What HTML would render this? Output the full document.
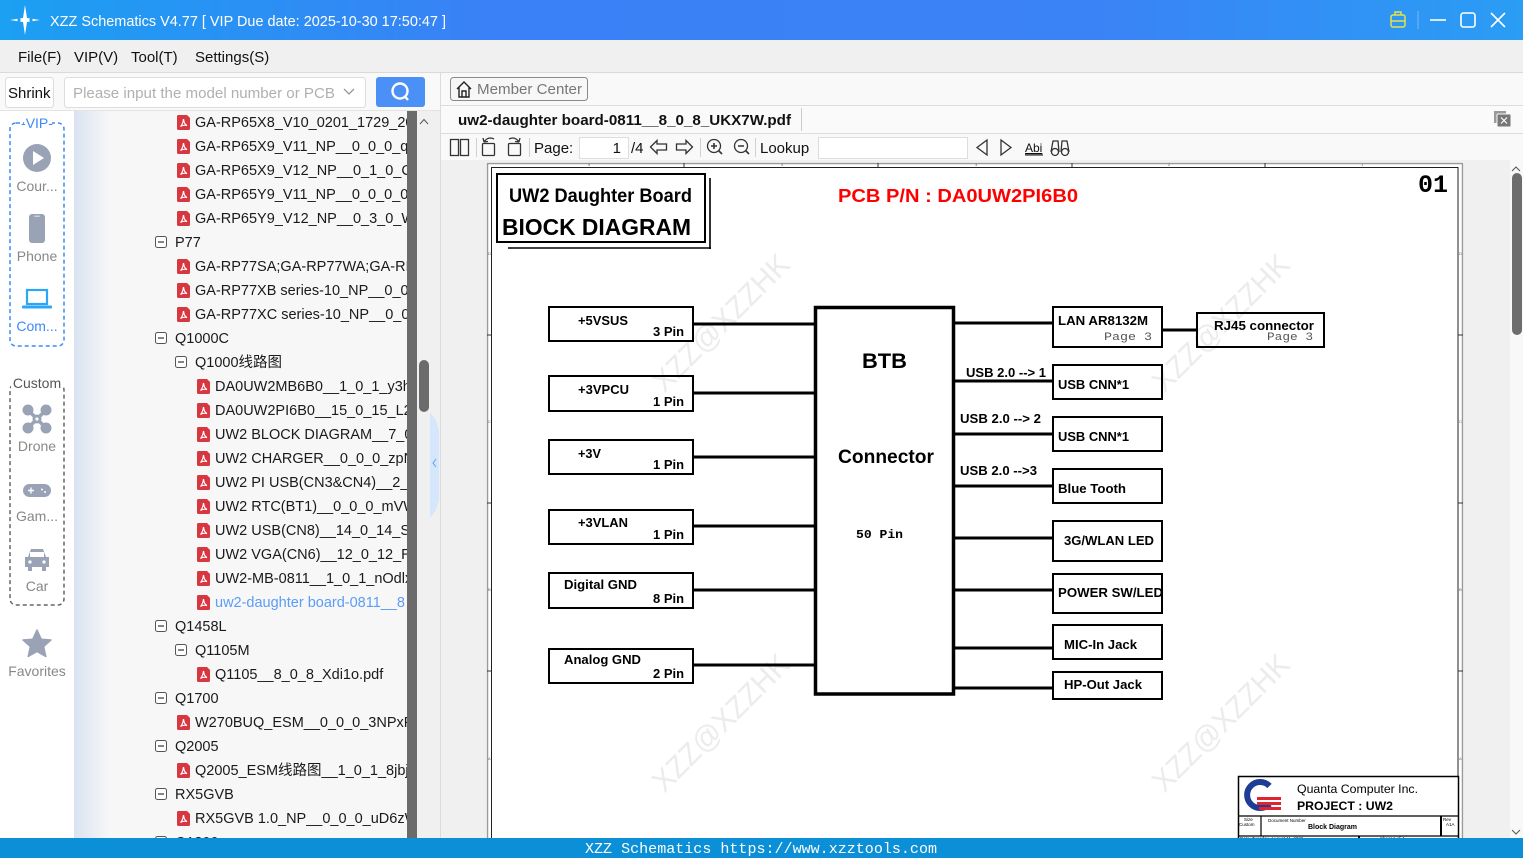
<!DOCTYPE html>
<html><head><meta charset="utf-8">
<style>
html,body{margin:0;padding:0;width:1523px;height:858px;overflow:hidden;background:#f0f0f0}
svg{display:block}
.ui{font-family:"Liberation Sans","Noto Sans CJK SC",sans-serif}
.b{font-family:"Liberation Sans",sans-serif;font-weight:bold}
.m{font-family:"Liberation Mono",monospace}
</style></head>
<body>
<svg width="1523" height="858" viewBox="0 0 1523 858" xmlns="http://www.w3.org/2000/svg">
<defs>
<linearGradient id="tg" x1="0" x2="1" y1="0" y2="0">
<stop offset="0" stop-color="#1ba0f2"/><stop offset="0.33" stop-color="#3a80f6"/><stop offset="0.72" stop-color="#3a83f6"/><stop offset="1" stop-color="#2a9df4"/></linearGradient>
<linearGradient id="treeg" x1="0" x2="1" y1="0" y2="0">
<stop offset="0" stop-color="#dae3f2"/><stop offset="1" stop-color="#f7f7f7"/></linearGradient>
<clipPath id="treeclip"><rect x="74" y="111" width="333" height="727"/></clipPath>
<clipPath id="pageclip"><rect x="441" y="160" width="1069" height="678"/></clipPath>
<g id="pi"><path d="M0 1.5 Q0 0 1.5 0 L10 0 L13 3 L13 13.5 Q13 15 11.5 15 L1.5 15 Q0 15 0 13.5 Z" fill="#d9373f"/><path d="M3.5 11.5 Q6 9 6.5 4 Q7 9 10 10.5 Q6 9.5 3.5 11.5 Z" fill="none" stroke="#fff" stroke-width="1.2"/></g>
<g id="mb"><rect x="0.5" y="0.5" width="11" height="11" rx="2" fill="#fff" stroke="#555" stroke-width="1"/><line x1="3" y1="6" x2="9" y2="6" stroke="#333" stroke-width="1.2"/></g>
</defs>

<!-- Title bar -->
<rect x="0" y="0" width="1523" height="40" fill="url(#tg)"/>
<g fill="#fff">
<path d="M25 5 L27 18 L40 20 L27 22 L25 35 L23 22 L10 20 L23 18 Z"/>
</g>
<circle cx="19" cy="20" r="1.6" fill="#1ba0f2"/><circle cx="31" cy="20" r="1.6" fill="#1ba0f2"/>
<text class="ui" x="50" y="26" font-size="15" fill="#fff" textLength="396" lengthAdjust="spacingAndGlyphs">XZZ Schematics V4.77 [ VIP Due date: 2025-10-30 17:50:47 ]</text>
<g fill="none" stroke="#e4e24a" stroke-width="1.5"><rect x="1391" y="15" width="14" height="12" rx="2"/><path d="M1395 15 V12 H1401 V15 M1391 21 H1405"/></g>
<line x1="1418" y1="11" x2="1418" y2="29" stroke="#7fb3f8" stroke-width="1"/>
<g fill="none" stroke="#fff" stroke-width="1.6"><line x1="1430" y1="20" x2="1446" y2="20"/><rect x="1461" y="13" width="14" height="14" rx="2.5"/><path d="M1491 13 L1505 27 M1505 13 L1491 27"/></g>

<!-- Menu bar -->
<rect x="0" y="40" width="1523" height="32" fill="#f0f0f0"/>
<g class="ui" font-size="15" fill="#111">
<text x="18" y="62">File(F)</text><text x="74" y="62">VIP(V)</text><text x="131" y="62">Tool(T)</text><text x="195" y="62">Settings(S)</text>
</g>
<line x1="0" y1="72.5" x2="1523" y2="72.5" stroke="#dadada"/>

<!-- Left toolbar row -->
<rect x="0" y="73" width="440" height="38" fill="#f9f9f9"/>
<rect x="5.5" y="77.5" width="48" height="30" rx="3" fill="#fff" stroke="#ddd"/>
<text class="ui" x="8" y="98" font-size="15" fill="#111">Shrink</text>
<rect x="64.5" y="77.5" width="301" height="30" rx="3" fill="#fff" stroke="#ddd"/>
<text class="ui" x="73" y="98" font-size="15" fill="#b0b0b0" textLength="262" lengthAdjust="spacingAndGlyphs">Please input the model number or PCB</text>
<path d="M344 89 L349 94 L354 89" fill="none" stroke="#999" stroke-width="1.3"/>
<rect x="376" y="77" width="49" height="30" rx="3" fill="#4a90f7"/>
<circle cx="400" cy="91" r="7.5" fill="none" stroke="#fff" stroke-width="2.4"/>
<line x1="405" y1="96.5" x2="408" y2="100" stroke="#fff" stroke-width="2.4"/>
<line x1="0" y1="110.5" x2="440" y2="110.5" stroke="#e3e3e3"/>

<!-- Left icon column -->
<rect x="0" y="111" width="74" height="727" fill="#fff"/>
<rect x="10" y="123" width="54" height="223" rx="6" fill="none" stroke="#3d8af7" stroke-width="1.5" stroke-dasharray="4 3"/>
<rect x="24" y="115" width="28" height="14" fill="#fff"/>
<text class="ui" x="37" y="128" font-size="14" fill="#3d8af7" text-anchor="middle">-VIP-</text>
<circle cx="37" cy="158" r="14" fill="#9aa3b5"/><path d="M33 151 L44 158 L33 165 Z" fill="#fff"/>
<text class="ui" x="37" y="191" font-size="14" fill="#888" text-anchor="middle">Cour...</text>
<rect x="29" y="214" width="16" height="29" rx="3" fill="#9aa3b5"/><rect x="34" y="215.5" width="6" height="1.5" rx="0.7" fill="#c9cfdb"/>
<text class="ui" x="37" y="261" font-size="14" fill="#888" text-anchor="middle">Phone</text>
<rect x="27" y="290" width="20" height="14" fill="none" stroke="#2ea6f6" stroke-width="2.2"/><rect x="22" y="305.5" width="30" height="3" rx="1" fill="#2ea6f6"/>
<text class="ui" x="37" y="331" font-size="14" fill="#3d8af7" text-anchor="middle">Com...</text>
<rect x="10" y="384" width="54" height="221" rx="6" fill="none" stroke="#666" stroke-width="1.5" stroke-dasharray="4 3"/>
<rect x="11" y="375" width="52" height="15" fill="#fff"/>
<text class="ui" x="37" y="388" font-size="14" fill="#555" text-anchor="middle">Custom</text>
<g fill="#9aa3b5" stroke="#9aa3b5"><circle cx="28" cy="410" r="5"/><circle cx="46" cy="410" r="5"/><circle cx="28" cy="428" r="5"/><circle cx="46" cy="428" r="5"/><path d="M28 410 L46 428 M46 410 L28 428" stroke-width="3.5"/><circle cx="37" cy="419" r="4"/></g>
<circle cx="37" cy="419" r="1.6" fill="#fff"/>
<text class="ui" x="37" y="451" font-size="14" fill="#888" text-anchor="middle">Drone</text>
<rect x="23" y="484" width="28" height="13" rx="6.5" fill="#9aa3b5"/><path d="M28 490.5 H34 M31 487.5 V493.5" stroke="#fff" stroke-width="1.4"/><circle cx="42" cy="489.5" r="1" fill="#fff"/><circle cx="45" cy="492" r="1" fill="#fff"/>
<text class="ui" x="37" y="521" font-size="14" fill="#888" text-anchor="middle">Gam...</text>
<path d="M28 557 L31 549 H43 L46 557 H49 V567 H46 V571 H42 V567 H32 V571 H28 V567 H25 V557 Z" fill="#9aa3b5"/><rect x="30" y="552" width="14" height="5" fill="#fff"/><circle cx="30" cy="562" r="1.6" fill="#fff"/><circle cx="44" cy="562" r="1.6" fill="#fff"/>
<text class="ui" x="37" y="591" font-size="14" fill="#888" text-anchor="middle">Car</text>
<path d="M37 630 L41.2 639.2 L51 640 L43.6 646.6 L45.8 656.5 L37 651.5 L28.2 656.5 L30.4 646.6 L23 640 L32.8 639.2 Z" fill="#9aa3b5" stroke="#9aa3b5" stroke-linejoin="round" stroke-width="1.5"/>
<text class="ui" x="37" y="676" font-size="14" fill="#888" text-anchor="middle">Favorites</text>

<!-- Tree -->
<rect x="74" y="111" width="333" height="727" fill="#f7f7f7"/>
<rect x="74" y="111" width="36" height="727" fill="url(#treeg)"/>
<g clip-path="url(#treeclip)" class="ui" font-size="14.5" fill="#1a1a1a">
<use href="#pi" x="177" y="115"/><text x="195" y="127">GA-RP65X8_V10_0201_1729_2018</text>
<use href="#pi" x="177" y="139"/><text x="195" y="151">GA-RP65X9_V11_NP__0_0_0_qRz</text>
<use href="#pi" x="177" y="163"/><text x="195" y="175">GA-RP65X9_V12_NP__0_1_0_CoQ</text>
<use href="#pi" x="177" y="187"/><text x="195" y="199">GA-RP65Y9_V11_NP__0_0_0_06rk</text>
<use href="#pi" x="177" y="211"/><text x="195" y="223">GA-RP65Y9_V12_NP__0_3_0_W1x</text>
<use href="#mb" x="155" y="236"/><text x="175" y="247">P77</text>
<use href="#pi" x="177" y="259"/><text x="195" y="271">GA-RP77SA;GA-RP77WA;GA-RP7</text>
<use href="#pi" x="177" y="283"/><text x="195" y="295">GA-RP77XB series-10_NP__0_0_0</text>
<use href="#pi" x="177" y="307"/><text x="195" y="319">GA-RP77XC series-10_NP__0_0_0</text>
<use href="#mb" x="155" y="332"/><text x="175" y="343">Q1000C</text>
<use href="#mb" x="175" y="356"/><text x="195" y="367">Q1000线路图</text>
<use href="#pi" x="197" y="379"/><text x="215" y="391">DA0UW2MB6B0__1_0_1_y3hk</text>
<use href="#pi" x="197" y="403"/><text x="215" y="415">DA0UW2PI6B0__15_0_15_L2x</text>
<use href="#pi" x="197" y="427"/><text x="215" y="439">UW2 BLOCK DIAGRAM__7_0_7</text>
<use href="#pi" x="197" y="451"/><text x="215" y="463">UW2 CHARGER__0_0_0_zpNY</text>
<use href="#pi" x="197" y="475"/><text x="215" y="487">UW2 PI USB(CN3&amp;CN4)__2_0</text>
<use href="#pi" x="197" y="499"/><text x="215" y="511">UW2 RTC(BT1)__0_0_0_mVWx</text>
<use href="#pi" x="197" y="523"/><text x="215" y="535">UW2 USB(CN8)__14_0_14_SDk</text>
<use href="#pi" x="197" y="547"/><text x="215" y="559">UW2 VGA(CN6)__12_0_12_R3x</text>
<use href="#pi" x="197" y="571"/><text x="215" y="583">UW2-MB-0811__1_0_1_nOdlx</text>
<use href="#pi" x="197" y="595"/><text x="215" y="607" fill="#5b9cf5">uw2-daughter board-0811__8</text>
<use href="#mb" x="155" y="620"/><text x="175" y="631">Q1458L</text>
<use href="#mb" x="175" y="644"/><text x="195" y="655">Q1105M</text>
<use href="#pi" x="197" y="667"/><text x="215" y="679">Q1105__8_0_8_Xdi1o.pdf</text>
<use href="#mb" x="155" y="692"/><text x="175" y="703">Q1700</text>
<use href="#pi" x="177" y="715"/><text x="195" y="727">W270BUQ_ESM__0_0_0_3NPxF.pdf</text>
<use href="#mb" x="155" y="740"/><text x="175" y="751">Q2005</text>
<use href="#pi" x="177" y="763"/><text x="195" y="775">Q2005_ESM线路图__1_0_1_8jbjrx</text>
<use href="#mb" x="155" y="788"/><text x="175" y="799">RX5GVB</text>
<use href="#pi" x="177" y="811"/><text x="195" y="823">RX5GVB 1.0_NP__0_0_0_uD6zWx</text>
<use href="#mb" x="155" y="836"/><text x="175" y="847">Q1800</text>
</g>
<rect x="407" y="111" width="10" height="727" fill="#6b6b6b"/>
<rect x="417" y="111" width="13" height="727" fill="#f0f0f0"/>
<path d="M420 124 L424 119.5 L428 124" fill="none" stroke="#555" stroke-width="1"/>
<rect x="419" y="360" width="10" height="52" rx="5" fill="#6b6b6b"/>
<path d="M430 412 L436 420 L439 430 L439 500 L436 510 L430 518 Z" fill="#d5e7fb"/>
<path d="M436 459 L433 463 L436 467" fill="none" stroke="#5aa0f0" stroke-width="1"/>
<line x1="440.5" y1="73" x2="440.5" y2="838" stroke="#dcdcdc"/>

<!-- Right pane header rows -->
<rect x="441" y="73" width="1082" height="32" fill="#f9f9f9"/>
<rect x="450.5" y="77.5" width="137" height="23" rx="3" fill="#f7f7f7" stroke="#8a8a8a"/>
<path d="M457 89 L464 82 L471 89 M459 87.5 V97 H469 V87.5 M462 97 V91 H466 V97" fill="none" stroke="#222" stroke-width="1.4"/>
<text class="ui" x="477" y="94" font-size="15" fill="#777" textLength="105" lengthAdjust="spacingAndGlyphs">Member Center</text>
<line x1="441" y1="105.5" x2="1523" y2="105.5" stroke="#dcdcdc"/>
<rect x="441" y="106" width="1082" height="27" fill="#fafafa"/>
<text class="ui" x="458" y="125" font-size="15" font-weight="bold" fill="#111" textLength="333" lengthAdjust="spacingAndGlyphs">uw2-daughter board-0811__8_0_8_UKX7W.pdf</text>
<line x1="801.5" y1="108" x2="801.5" y2="131" stroke="#ccc"/>
<rect x="1494" y="111" width="12" height="12" fill="#9a9a9a"/><rect x="1497" y="114" width="14" height="13" rx="1" fill="#777" stroke="#fafafa" stroke-width="1"/>
<path d="M1501 117.5 L1507 123.5 M1507 117.5 L1501 123.5" stroke="#fff" stroke-width="1.2"/>
<line x1="441" y1="133.5" x2="1523" y2="133.5" stroke="#dcdcdc"/>
<rect x="441" y="134" width="1082" height="26" fill="#f9f9f9"/>
<!-- toolbar icons -->
<g fill="none" stroke="#333" stroke-width="1.3">
<rect x="450.5" y="139.5" width="8" height="16"/><rect x="460.5" y="139.5" width="8" height="16"/>
<rect x="482.5" y="143.5" width="12" height="12" rx="1"/><path d="M484 142 Q488 136 494 139 M484 142 L483 138 M484 142 L488 141.5"/>
<rect x="508.5" y="143.5" width="12" height="12" rx="1"/><path d="M519 142 Q515 136 509 139 M519 142 L520 138 M519 142 L515 141.5"/>
<path d="M650.5 147 L657 140.5 V144 H666.5 V150 H657 V153.5 Z"/>
<path d="M692.5 147 L686 140.5 V144 H676.5 V150 H686 V153.5 Z"/>
<circle cx="714" cy="146" r="6.5"/><path d="M711 146 H717 M714 143 V149 M718.5 150.5 L722 154" stroke-width="1.6"/>
<circle cx="741" cy="146" r="6.5"/><path d="M738 146 H744 M745.5 150.5 L749 154" stroke-width="1.6"/>
<path d="M987 140 L977 147.5 L987 155 Z"/><path d="M1001 140 L1011 147.5 L1001 155 Z"/>
<path d="M1051 152 L1053 141 H1058 L1059 152 M1061 152 L1062 141 H1067 L1069 152"/><circle cx="1055" cy="152" r="3.5"/><circle cx="1065" cy="152" r="3.5"/>
</g>
<g stroke="#d0d0d0"><line x1="476.5" y1="138" x2="476.5" y2="157"/><line x1="529.5" y1="138" x2="529.5" y2="157"/><line x1="700.5" y1="138" x2="700.5" y2="157"/><line x1="755.5" y1="138" x2="755.5" y2="157"/></g>
<text class="ui" x="534" y="153" font-size="15" fill="#111">Page:</text>
<rect x="579.5" y="137.5" width="49" height="21" fill="#fff" stroke="#ddd"/>
<text class="ui" x="621" y="153" font-size="15" fill="#111" text-anchor="end">1</text>
<text class="ui" x="631" y="153" font-size="15" fill="#111">/4</text>
<text class="ui" x="760" y="153" font-size="15" fill="#111">Lookup</text>
<rect x="818.5" y="137.5" width="149" height="21" fill="#fff" stroke="#ddd"/>
<text class="ui" x="1025" y="152" font-size="12" fill="#111" text-decoration="underline">Abi</text>
<line x1="1025" y1="155" x2="1043" y2="155" stroke="#111"/>

<!-- PDF area -->
<rect x="441" y="160" width="1069" height="678" fill="#f0f0f0"/>
<rect x="1510" y="160" width="13" height="678" fill="#f8f8f8"/>
<path d="M1512 171 L1516 167 L1520 171" fill="none" stroke="#555" stroke-width="1"/>
<rect x="1512" y="173" width="10" height="162" rx="5" fill="#6d6d6d"/>
<path d="M1512 830 L1516 834 L1520 830" fill="none" stroke="#555" stroke-width="1"/>

<g clip-path="url(#pageclip)">
<rect x="486" y="162" width="978" height="680" fill="#fff"/>
<rect x="487.5" y="163.5" width="975" height="690" fill="none" stroke="#9a9a9a" stroke-width="1.5"/>
<rect x="491.5" y="167.5" width="966.5" height="690" fill="none" stroke="#222" stroke-width="1"/>
<g stroke="#333" stroke-width="1">
<line x1="684" y1="163" x2="684" y2="167"/><line x1="878" y1="163" x2="878" y2="167"/><line x1="1072" y1="163" x2="1072" y2="167"/><line x1="1265" y1="163" x2="1265" y2="167"/>
<line x1="487" y1="335" x2="491" y2="335"/><line x1="487" y1="503" x2="491" y2="503"/><line x1="487" y1="671" x2="491" y2="671"/>
<line x1="1458" y1="335" x2="1463" y2="335"/><line x1="1458" y1="503" x2="1463" y2="503"/><line x1="1458" y1="671" x2="1463" y2="671"/>
</g>
<g class="ui" font-size="4" fill="#666"><text x="588" y="166">5</text><text x="781" y="166">4</text><text x="975" y="166">3</text><text x="1168" y="166">2</text><text x="1361" y="166">1</text><text x="488" y="255">D</text><text x="488" y="423">C</text><text x="488" y="591">B</text><text x="488" y="760">A</text><text x="1459" y="255">D</text><text x="1459" y="423">C</text><text x="1459" y="591">B</text><text x="1459" y="760">A</text></g>

<!-- watermarks -->
<g class="ui" font-size="30" fill="#ececec" text-anchor="middle">
<text transform="translate(728,330) rotate(-45)" textLength="180" lengthAdjust="spacingAndGlyphs">XZZ@XZZHK</text>
<text transform="translate(728,730) rotate(-45)" textLength="180" lengthAdjust="spacingAndGlyphs">XZZ@XZZHK</text>
<text transform="translate(1228,330) rotate(-45)" textLength="180" lengthAdjust="spacingAndGlyphs">XZZ@XZZHK</text>
<text transform="translate(1228,730) rotate(-45)" textLength="180" lengthAdjust="spacingAndGlyphs">XZZ@XZZHK</text>
</g>

<!-- Title box -->
<rect x="497" y="174" width="208" height="68" fill="none" stroke="#000" stroke-width="2"/>
<path d="M710 178 V249 M508 248 H711" fill="none" stroke="#000" stroke-width="1.6"/>
<text class="b" x="509" y="202" font-size="19.5" fill="#000" textLength="183" lengthAdjust="spacingAndGlyphs">UW2 Daughter Board</text>
<text class="b" x="502" y="235" font-size="23.5" fill="#000" textLength="189" lengthAdjust="spacingAndGlyphs">BIOCK DIAGRAM</text>
<text class="b" x="838" y="202" font-size="18" fill="#ff0000" textLength="240" lengthAdjust="spacingAndGlyphs">PCB P/N : DA0UW2PI6B0</text>
<text class="m" x="1418" y="192" font-size="25" font-weight="bold" fill="#000" textLength="30" lengthAdjust="spacingAndGlyphs">01</text>

<!-- Left boxes -->
<g fill="none" stroke="#000" stroke-width="2">
<rect x="549" y="307" width="144" height="34"/>
<rect x="549" y="376" width="144" height="35"/>
<rect x="549" y="440" width="144" height="34"/>
<rect x="549" y="510" width="144" height="34"/>
<rect x="549" y="573" width="144" height="35"/>
<rect x="549" y="649" width="144" height="34"/>
</g>
<g stroke="#000" stroke-width="3">
<line x1="693" y1="324" x2="815" y2="324"/><line x1="693" y1="393" x2="815" y2="393"/><line x1="693" y1="457" x2="815" y2="457"/>
<line x1="693" y1="526" x2="815" y2="526"/><line x1="693" y1="590" x2="815" y2="590"/><line x1="693" y1="665" x2="815" y2="665"/>
<line x1="953" y1="323" x2="1053" y2="323"/><line x1="953" y1="381" x2="1053" y2="381"/><line x1="953" y1="434" x2="1053" y2="434"/>
<line x1="953" y1="486" x2="1053" y2="486"/><line x1="953" y1="538" x2="1053" y2="538"/><line x1="953" y1="590" x2="1053" y2="590"/>
<line x1="953" y1="648" x2="1053" y2="648"/><line x1="953" y1="688" x2="1053" y2="688"/>
<line x1="1162" y1="330" x2="1197" y2="330"/>
</g>
<g class="b" font-size="13" fill="#000">
<text x="578" y="325" textLength="50" lengthAdjust="spacingAndGlyphs">+5VSUS</text>
<text x="653" y="336" textLength="31" lengthAdjust="spacingAndGlyphs">3 Pin</text>
<text x="578" y="394" textLength="51" lengthAdjust="spacingAndGlyphs">+3VPCU</text>
<text x="653" y="406" textLength="31" lengthAdjust="spacingAndGlyphs">1 Pin</text>
<text x="578" y="458" textLength="23" lengthAdjust="spacingAndGlyphs">+3V</text>
<text x="653" y="469" textLength="31" lengthAdjust="spacingAndGlyphs">1 Pin</text>
<text x="578" y="527" textLength="50" lengthAdjust="spacingAndGlyphs">+3VLAN</text>
<text x="653" y="539" textLength="31" lengthAdjust="spacingAndGlyphs">1 Pin</text>
<text x="564" y="589" textLength="73" lengthAdjust="spacingAndGlyphs">Digital GND</text>
<text x="653" y="603" textLength="31" lengthAdjust="spacingAndGlyphs">8 Pin</text>
<text x="564" y="664" textLength="77" lengthAdjust="spacingAndGlyphs">Analog GND</text>
<text x="653" y="678" textLength="31" lengthAdjust="spacingAndGlyphs">2 Pin</text>
</g>

<!-- BTB -->
<rect x="815.5" y="307.5" width="138" height="386.5" fill="none" stroke="#000" stroke-width="3.5"/>
<text class="b" x="862" y="368" font-size="21.5" fill="#000" textLength="45" lengthAdjust="spacingAndGlyphs">BTB</text>
<text class="b" x="838" y="463" font-size="19.5" fill="#000" textLength="96" lengthAdjust="spacingAndGlyphs">Connector</text>
<text class="m" x="856" y="538" font-size="11.5" font-weight="bold" fill="#000" textLength="47" lengthAdjust="spacingAndGlyphs">50 Pin</text>

<!-- Right boxes -->
<g fill="none" stroke="#000" stroke-width="2">
<rect x="1053" y="307" width="109" height="40"/>
<rect x="1053" y="365" width="109" height="34"/>
<rect x="1053" y="417" width="109" height="34"/>
<rect x="1053" y="469" width="109" height="34"/>
<rect x="1053" y="521" width="109" height="40"/>
<rect x="1053" y="574" width="109" height="39"/>
<rect x="1053" y="625" width="109" height="34"/>
<rect x="1053" y="672" width="109" height="27"/>
<rect x="1197" y="313" width="127" height="34"/>
</g>
<g class="b" font-size="13" fill="#000">
<text x="1058" y="325" textLength="90" lengthAdjust="spacingAndGlyphs">LAN AR8132M</text>
<text x="1214" y="330" textLength="100" lengthAdjust="spacingAndGlyphs">RJ45 connector</text>
<text x="966" y="377" font-size="12.5" textLength="80" lengthAdjust="spacingAndGlyphs">USB 2.0 --&gt; 1</text>
<text x="1058" y="389" textLength="71" lengthAdjust="spacingAndGlyphs">USB CNN*1</text>
<text x="960" y="423" font-size="12.5" textLength="81" lengthAdjust="spacingAndGlyphs">USB 2.0 --&gt; 2</text>
<text x="1058" y="441" textLength="71" lengthAdjust="spacingAndGlyphs">USB CNN*1</text>
<text x="960" y="475" font-size="12.5" textLength="77" lengthAdjust="spacingAndGlyphs">USB 2.0 --&gt;3</text>
<text x="1058" y="493" textLength="68" lengthAdjust="spacingAndGlyphs">Blue Tooth</text>
<text x="1064" y="545" textLength="90" lengthAdjust="spacingAndGlyphs">3G/WLAN LED</text>
<text x="1058" y="597" textLength="105" lengthAdjust="spacingAndGlyphs">POWER SW/LED</text>
<text x="1064" y="649" textLength="73" lengthAdjust="spacingAndGlyphs">MIC-In Jack</text>
<text x="1064" y="689" textLength="78" lengthAdjust="spacingAndGlyphs">HP-Out Jack</text>
</g>
<g class="m" font-size="11" fill="#555">
<text x="1104" y="340" textLength="48" lengthAdjust="spacingAndGlyphs">Page 3</text>
<text x="1267" y="340" textLength="46" lengthAdjust="spacingAndGlyphs">Page 3</text>
</g>

<!-- Title block -->
<rect x="1238.5" y="776.5" width="220" height="80" fill="#fff" stroke="#000" stroke-width="1.5"/>
<g stroke="#000" stroke-width="1.2">
<line x1="1238" y1="816" x2="1458" y2="816"/><line x1="1261" y1="816" x2="1261" y2="836"/><line x1="1441" y1="816" x2="1441" y2="836" stroke-width="2"/>
<line x1="1238" y1="836" x2="1458" y2="836"/><line x1="1359" y1="836" x2="1359" y2="846" stroke-width="2"/>
</g>
<path d="M1269.5 786 A13 13 0 1 0 1269.5 804" fill="none" stroke="#1f3c96" stroke-width="6"/>
<g fill="#e0232e"><rect x="1257" y="797" width="24" height="3"/><rect x="1257" y="802" width="24" height="3"/><rect x="1259" y="807" width="22" height="3"/></g>
<text class="ui" x="1297" y="793" font-size="12" fill="#000" textLength="121" lengthAdjust="spacingAndGlyphs">Quanta Computer Inc.</text>
<text class="b" x="1297" y="810" font-size="11.5" fill="#000" textLength="96" lengthAdjust="spacingAndGlyphs">PROJECT : UW2</text>
<g class="ui" font-size="4.5" fill="#000">
<text x="1244" y="821">Size</text><text x="1239" y="826">Custom</text>
<text x="1268" y="822">Document Number</text>
<text x="1443" y="821">Rev</text><text x="1446" y="826">A1A</text>
<text x="1240" y="840">Date:   Tuesday, August 11, 2009</text>
<text x="1380" y="840">Sheet    1    of    4</text>
</g>
<text class="b" x="1308" y="829" font-size="7" fill="#000" textLength="49" lengthAdjust="spacingAndGlyphs">Block Diagram</text>
</g>

<!-- Status bar -->
<rect x="0" y="838" width="1523" height="20" fill="#0b8fd6"/>
<text class="m" x="585" y="853" font-size="15" fill="#fff" textLength="352" lengthAdjust="spacingAndGlyphs">XZZ Schematics https://www.xzztools.com</text>
</svg>
</body></html>
